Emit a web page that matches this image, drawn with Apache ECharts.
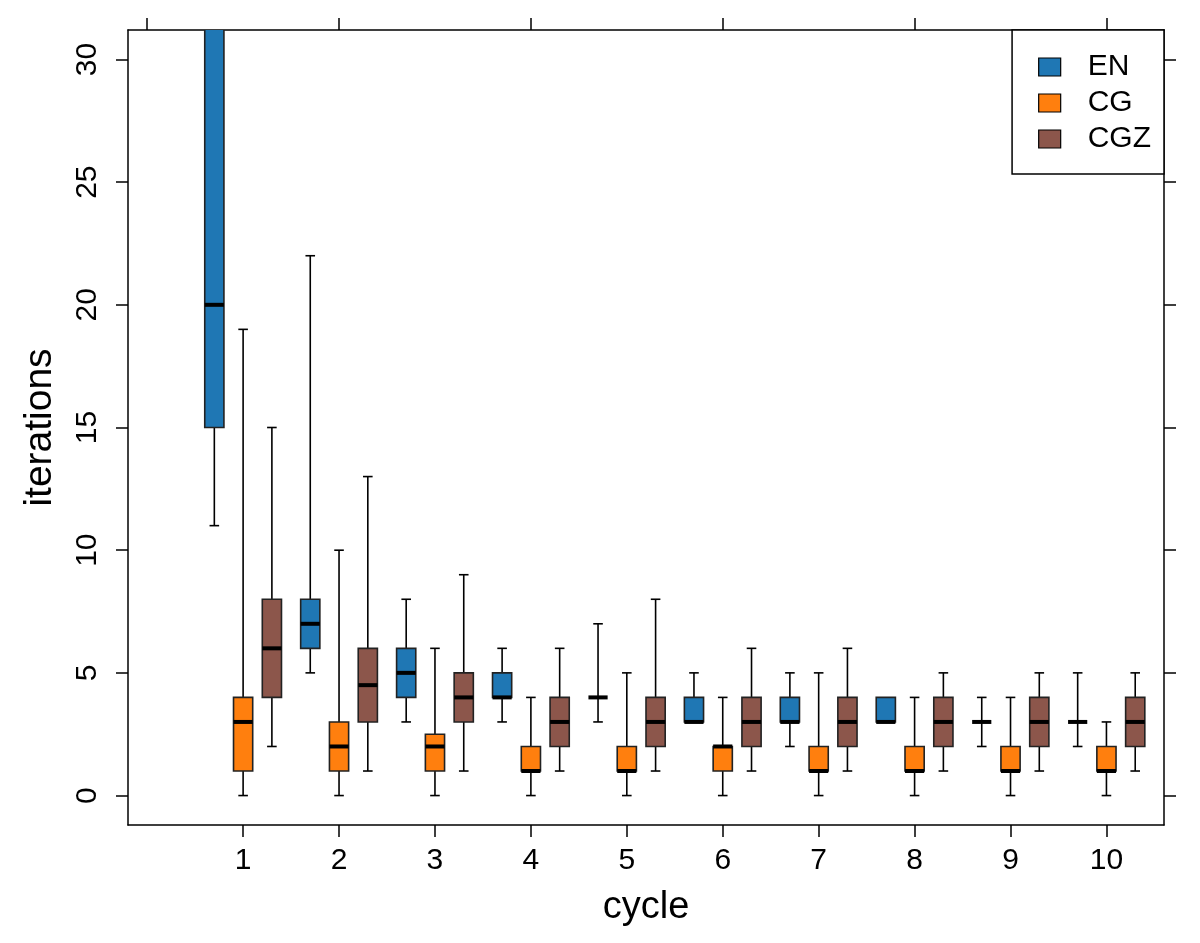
<!DOCTYPE html>
<html>
<head>
<meta charset="utf-8">
<script src="https://cdn.jsdelivr.net/npm/echarts@6/dist/echarts.min.js"></script>
<style>
  html, body { margin: 0; padding: 0; background: #fff; }
  #chart { width: 1200px; height: 943px; }
</style>
</head>
<body>
<div id="chart"></div>
<script>
// cycles and tick values
const cycles = [1, 2, 3, 4, 5, 6, 7, 8, 9, 10];
const xTickBottom = [1, 2, 3, 4, 5, 6, 7, 8, 9, 10];
const xTickTop = [0, 2, 4, 6, 8, 10];
const yTicks = [0, 5, 10, 15, 20, 25, 30];
const groups = ['EN', 'CG', 'CGZ'];

// EN (upper part of cycle 1 runs off the top of the plot)
const enMin = [11, 5, 3, 3, 3, 3, 2, 3, 2, 2];
const enQ1  = [15, 6, 4, 4, 4, 3, 3, 3, 3, 3];
const enMed = [20, 7, 5, 4, 4, 3, 3, 3, 3, 3];
const enQ3  = [36, 8, 6, 5, 4, 4, 4, 4, 3, 3];
const enMax = [50, 22, 8, 6, 7, 5, 5, 4, 4, 5];

// CG
const cgMin = [0, 0, 0, 0, 0, 0, 0, 0, 0, 0];
const cgQ1  = [1, 1, 1, 1, 1, 1, 1, 1, 1, 1];
const cgMed = [3, 2, 2, 1, 1, 2, 1, 1, 1, 1];
const cgQ3  = [4, 3, 2.5, 2, 2, 2, 2, 2, 2, 2];
const cgMax = [19, 10, 6, 4, 5, 4, 5, 4, 4, 3];

// CGZ
const cgzMin = [2, 1, 1, 1, 1, 1, 1, 1, 1, 1];
const cgzQ1  = [4, 3, 3, 2, 2, 2, 2, 2, 2, 2];
const cgzMed = [6, 4.5, 4, 3, 3, 3, 3, 3, 3, 3];
const cgzQ3  = [8, 6, 5, 4, 4, 4, 4, 4, 4, 4];
const cgzMax = [15, 13, 9, 6, 8, 6, 6, 5, 5, 5];

const colors = ['#1f77b4', '#ff7f0e', '#8c564b'];
const offsets = [-0.3, 0, 0.3];
const boxWidth = 0.2;
const fontFamily = "'Liberation Sans', Arial, sans-serif";

function rows(mn, q1, md, q3, mx) {
    return cycles.map((c, i) => [c, mn[i], q1[i], md[i], q3[i], mx[i]]);
}

function boxRenderer(offset, color) {
    return function (params, api) {
        const x = api.value(0) + offset;
        const lo = api.value(1), q1 = api.value(2), med = api.value(3), q3 = api.value(4), hi = api.value(5);
        const half = api.size([boxWidth, 0])[0] / 2;
        const pLo = api.coord([x, lo]);
        const pQ1 = api.coord([x, q1]);
        const pMed = api.coord([x, med]);
        const pQ3 = api.coord([x, q3]);
        const pHi = api.coord([x, hi]);
        const cx = pLo[0];
        const lineStyle = { stroke: '#000', lineWidth: 1.6 };
        const children = [];
        // whiskers + caps
        if (hi > q3) {
            children.push({ type: 'line', shape: { x1: cx, y1: pQ3[1], x2: cx, y2: pHi[1] }, style: lineStyle });
            children.push({ type: 'line', shape: { x1: cx - half / 2, y1: pHi[1], x2: cx + half / 2, y2: pHi[1] }, style: lineStyle });
        }
        if (lo < q1) {
            children.push({ type: 'line', shape: { x1: cx, y1: pQ1[1], x2: cx, y2: pLo[1] }, style: lineStyle });
            children.push({ type: 'line', shape: { x1: cx - half / 2, y1: pLo[1], x2: cx + half / 2, y2: pLo[1] }, style: lineStyle });
        }
        // box
        if (q3 > q1) {
            children.push({
                type: 'rect',
                shape: { x: cx - half, y: pQ3[1], width: half * 2, height: pQ1[1] - pQ3[1] },
                style: { fill: color, stroke: '#222', lineWidth: 1.6 }
            });
        }
        // median
        children.push({
            type: 'line',
            shape: { x1: cx - half, y1: pMed[1], x2: cx + half, y2: pMed[1] },
            style: { stroke: '#000', lineWidth: 4 }
        });
        return { type: 'group', children: children };
    };
}

const seriesData = [
    rows(enMin, enQ1, enMed, enQ3, enMax),
    rows(cgMin, cgQ1, cgMed, cgQ3, cgMax),
    rows(cgzMin, cgzQ1, cgzMed, cgzQ3, cgzMax)
];

const axisLineStyle = { show: true, onZero: false, lineStyle: { color: '#000', width: 1.5 } };
const tickStyle = { lineStyle: { color: '#000', width: 1.5 } };

const chart = echarts.init(document.getElementById('chart'), null, { renderer: 'canvas' });
chart.setOption({
    animation: false,
    backgroundColor: '#fff',
    textStyle: { fontFamily: fontFamily },
    grid: { left: 128, right: 36, top: 30, bottom: 118 },
    legend: {
        data: groups,
        orient: 'vertical',
        right: 36,
        top: 30,
        icon: 'rect',
        itemWidth: 22,
        itemHeight: 18,
        itemGap: 6,
        padding: [22, 13, 20, 26],
        borderColor: '#000',
        borderWidth: 1.5,
        backgroundColor: '#fff',
        itemStyle: { borderColor: '#000', borderWidth: 1.2 },
        textStyle: { fontSize: 30, color: '#000', fontFamily: fontFamily, padding: [0, 0, 0, 22] },
        selectedMode: false
    },
    xAxis: [
        {
            type: 'value', position: 'bottom', min: -0.2, max: 10.6,
            name: 'cycle', nameLocation: 'middle', nameGap: 64,
            nameTextStyle: { fontSize: 38, color: '#000', fontFamily: fontFamily },
            axisLine: axisLineStyle,
            axisTick: Object.assign({ show: true, length: 12, customValues: xTickBottom }, tickStyle),
            axisLabel: { show: true, customValues: xTickBottom, fontSize: 30, color: '#000', margin: 21, fontFamily: fontFamily },
            splitLine: { show: false }
        },
        {
            type: 'value', position: 'top', min: -0.2, max: 10.6,
            axisLine: axisLineStyle,
            axisTick: Object.assign({ show: true, length: 12, customValues: xTickTop }, tickStyle),
            axisLabel: { show: false },
            splitLine: { show: false }
        }
    ],
    yAxis: [
        {
            type: 'value', position: 'left', min: -1.2, max: 31.2,
            name: 'iterations', nameLocation: 'middle', nameGap: 68,
            nameTextStyle: { fontSize: 39, color: '#000', fontFamily: fontFamily },
            axisLine: axisLineStyle,
            axisTick: Object.assign({ show: true, length: 12, customValues: yTicks }, tickStyle),
            axisLabel: { show: true, customValues: yTicks, rotate: 90, fontSize: 30, color: '#000', margin: 25, fontFamily: fontFamily },
            splitLine: { show: false }
        },
        {
            type: 'value', position: 'right', min: -1.2, max: 31.2,
            axisLine: axisLineStyle,
            axisTick: Object.assign({ show: true, length: 12, customValues: yTicks }, tickStyle),
            axisLabel: { show: false },
            splitLine: { show: false }
        }
    ],
    series: groups.map((g, k) => ({
        name: g,
        type: 'custom',
        xAxisIndex: 0,
        yAxisIndex: 0,
        clip: true,
        itemStyle: { color: colors[k] },
        encode: { x: 0, y: [1, 2, 3, 4, 5] },
        renderItem: boxRenderer(offsets[k], colors[k]),
        data: seriesData[k]
    }))
});
</script>
</body>
</html>
